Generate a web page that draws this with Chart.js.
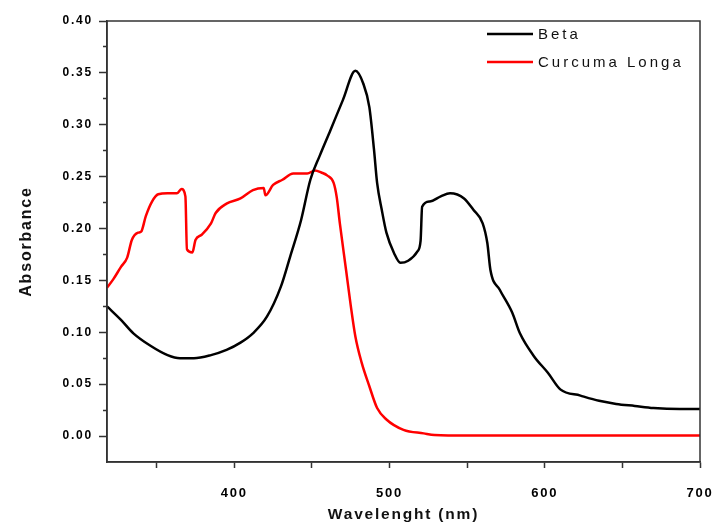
<!DOCTYPE html>
<html>
<head>
<meta charset="utf-8">
<script src="https://cdn.jsdelivr.net/npm/chart.js@4.4.1/dist/chart.umd.min.js"></script>
<style>
  html, body { margin: 0; padding: 0; background: #fff; }
  #wrap { width: 713px; height: 524px; }
</style>
</head>
<body>
<div id="wrap"><canvas id="chart" width="713" height="524"></canvas></div>
<script>
// ── Data ──────────────────────────────────────────────────────────────
const betaWavelength = [318, 327, 335, 346, 357, 365, 374, 385, 395, 404, 412, 421, 430, 436, 443, 449, 455, 462, 470, 478,
  483, 487, 490, 492, 495, 498, 503, 507, 512, 518, 520, 521, 526, 533, 539, 548, 554, 560, 563, 565,
  571, 579, 584, 593, 602, 610, 623, 635, 646, 658, 670, 687, 700];
const betaAbsorbance = [0.125, 0.112, 0.099, 0.087, 0.078, 0.075, 0.075, 0.078, 0.083, 0.090, 0.099, 0.115, 0.144, 0.173, 0.208, 0.247, 0.270, 0.295, 0.324, 0.352,
  0.340, 0.317, 0.276, 0.244, 0.218, 0.196, 0.176, 0.167, 0.169, 0.178, 0.188, 0.221, 0.226, 0.231, 0.234, 0.229, 0.218, 0.205, 0.186, 0.160,
  0.141, 0.119, 0.099, 0.077, 0.061, 0.045, 0.039, 0.034, 0.031, 0.029, 0.027, 0.026, 0.026];

const curcumaWavelength = [318, 322, 327, 331, 334, 338, 340, 343, 347, 351, 357, 363, 366, 368.5, 369.5, 373, 375, 379, 385, 388,
  395, 404, 412, 419, 420, 425, 431, 438, 447, 452, 456, 460, 464, 466, 468, 472, 475, 478, 482, 487,
  492, 498, 509, 522, 529, 550, 600, 650, 700];
const curcumaAbsorbance = [0.143, 0.151, 0.163, 0.172, 0.189, 0.196, 0.197, 0.212, 0.226, 0.233, 0.234, 0.234, 0.238, 0.231, 0.180, 0.177, 0.189, 0.194, 0.205, 0.215,
  0.224, 0.229, 0.237, 0.239, 0.232, 0.242, 0.247, 0.253, 0.253, 0.256, 0.254, 0.251, 0.244, 0.230, 0.205, 0.160, 0.126, 0.096, 0.071, 0.048,
  0.027, 0.016, 0.006, 0.0026, 0.001, 0.0005, 0.0005, 0.0005, 0.0005];

const seriesNames = ['Beta', 'Curcuma Longa'];
const xTickLabels = [400, 500, 600, 700];
const yTickLabels = [0, 0.05, 0.10, 0.15, 0.20, 0.25, 0.30, 0.35, 0.40];

const FONT = 'Arial, "Liberation Sans", sans-serif';
const toPoints = (xs, ys) => xs.map((x, i) => ({ x, y: ys[i] }));
const isMajorY = v => yTickLabels.some(t => Math.abs(t - v) < 1e-9);

// ── Plugins ───────────────────────────────────────────────────────────
// wide letter spacing like the original export
const spacing = {
  id: 'spacing',
  beforeUpdate(chart) { chart.ctx.letterSpacing = '1.8px'; },
  beforeDraw(chart) { chart.ctx.letterSpacing = '1.8px'; },
};

const frame = {
  id: 'frame',
  afterDraw(chart) {
    const { ctx, chartArea: a } = chart;
    ctx.save();
    ctx.strokeStyle = '#333';
    ctx.lineWidth = 1.5;
    ctx.strokeRect(a.left, a.top, a.right - a.left, a.bottom - a.top);
    ctx.restore();
  },
};

const lineLegend = {
  id: 'lineLegend',
  afterDraw(chart, args, opts) {
    const { ctx } = chart;
    ctx.save();
    ctx.letterSpacing = '3px';
    ctx.font = '15px ' + FONT;
    ctx.textBaseline = 'middle';
    chart.data.datasets.forEach((ds, i) => {
      const y = opts.y + i * opts.gap;
      ctx.strokeStyle = ds.borderColor;
      ctx.lineWidth = 2.5;
      ctx.beginPath();
      ctx.moveTo(opts.x, y);
      ctx.lineTo(opts.x + opts.len, y);
      ctx.stroke();
      ctx.fillStyle = '#111';
      ctx.fillText(ds.label, opts.x + opts.len + 5, y + 1);
    });
    ctx.restore();
  },
};

// ── Chart ─────────────────────────────────────────────────────────────
new Chart(document.getElementById('chart').getContext('2d'), {
  type: 'line',
  data: {
    datasets: [
      { label: seriesNames[0], data: toPoints(betaWavelength, betaAbsorbance), borderColor: '#000', borderWidth: 2.5,
        pointRadius: 0, cubicInterpolationMode: 'monotone', fill: false },
      { label: seriesNames[1], data: toPoints(curcumaWavelength, curcumaAbsorbance), borderColor: '#ff0000', borderWidth: 2.5,
        pointRadius: 0, cubicInterpolationMode: 'monotone', fill: false },
    ],
  },
  plugins: [spacing, frame, lineLegend],
  options: {
    responsive: false,
    animation: false,
    layout: { padding: { top: 21, right: 0, left: 0, bottom: 0 } },
    plugins: {
      legend: { display: false },
      tooltip: { enabled: false },
      lineLegend: { x: 487, y: 34, gap: 28, len: 46 },
    },
    scales: {
      x: {
        type: 'linear', min: 318, max: 700,
        afterBuildTicks: s => { s.ticks = s.ticks.filter(t => t.value % 50 === 0); },
        afterFit: s => { s.height = 62; s.paddingLeft = 0; s.paddingRight = 13; },
        ticks: { stepSize: 50, padding: 18, color: '#000', font: { family: FONT, size: 13, weight: 'bold' },
          callback: v => xTickLabels.includes(v) ? String(v) : '' },
        grid: { drawOnChartArea: false, tickLength: 6, color: '#333', tickWidth: 1.5 },
        border: { color: '#333', width: 1.5 },
        title: { display: true, text: 'Wavelenght (nm)', color: '#111', padding: { top: 1, bottom: 0 },
          font: { family: FONT, size: 15.5, weight: 'bold' } },
      },
      y: {
        min: -0.025, max: 0.4,
        afterBuildTicks: s => { s.ticks = s.ticks.filter(t => t.value > -0.02); },
        afterFit: s => { s.width = 107; },
        ticks: { stepSize: 0.025, padding: 6, color: '#000', font: { family: FONT, size: 12, weight: 'bold' },
          callback: v => isMajorY(v) ? v.toFixed(2) : '' },
        grid: { drawOnChartArea: false, tickLength: 8, color: '#333', tickWidth: 1.5,
          // minor ticks: only the inner half is drawn
          tickBorderDash: c => (c.tick && !isMajorY(c.tick.value)) ? [0, 4, 4] : [] },
        border: { color: '#333', width: 1.5 },
        title: { display: true, text: 'Absorbance', color: '#111', padding: { top: 17, bottom: 0 },
          font: { family: FONT, size: 16, weight: 'bold' } },
      },
    },
  },
});
</script>
</body>
</html>
